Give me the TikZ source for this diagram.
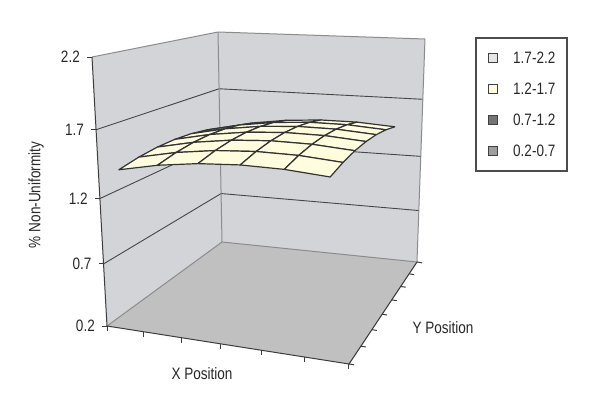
\documentclass[tikz,border=0pt]{standalone}
\usepackage{fontspec}
\setmainfont{Liberation Sans}[FakeStretch=0.82]
\definecolor{wallc}{RGB}{211,212,216}
\definecolor{floorc}{RGB}{192,192,192}
\definecolor{surfc}{RGB}{255,253,222}
\definecolor{gridc}{RGB}{70,70,70}
\definecolor{edgec}{RGB}{140,140,140}
\definecolor{axisc}{RGB}{60,60,60}
\definecolor{txtc}{RGB}{40,40,40}
\newcommand\projpt[4]{%
 \pgfmathsetmacro\su{(#2)*0.89/((1-(#2))+(#2)*0.89)}%
 \pgfmathsetmacro\sv{(#3)*1.27/((1-(#3))+(#3)*1.27)}%
 \pgfmathsetmacro\hh{((#4)-0.2)/2}%
 \pgfmathsetmacro\sh{\hh*0.9/((1-\hh)+\hh*0.9)}%
 \pgfmathsetmacro\bx{(1-\su)*(1-\sv)*107+\su*(1-\sv)*349+\su*\sv*417+(1-\su)*\sv*222}%
 \pgfmathsetmacro\by{(1-\su)*(1-\sv)*326+\su*(1-\sv)*364+\su*\sv*262+(1-\su)*\sv*242}%
 \pgfmathsetmacro\tx{(1-\su)*(1-\sv)*92+\su*(1-\sv)*354+\su*\sv*425+(1-\su)*\sv*218}%
 \pgfmathsetmacro\ty{(1-\su)*(1-\sv)*57+\su*(1-\sv)*78+\su*\sv*39+(1-\su)*\sv*32}%
 \pgfmathsetmacro\px{(1-\sh)*\bx+\sh*\tx}%
 \pgfmathsetmacro\py{(1-\sh)*\by+\sh*\ty}%
 \coordinate (#1) at (\px,\py);%
}
\tikzset{
  wall/.style={fill=wallc},
  floorface/.style={fill=floorc},
  gridline/.style={draw=gridc, line width=0.9pt},
  edgeline/.style={draw=edgec, line width=1pt},
  axisline/.style={draw=axisc, line width=1pt},
  cell/.style={fill=surfc, draw=black!80, line width=1.2pt, line join=round},
  lab/.style={font=\fontsize{16.5}{18}\selectfont, text=txtc, inner sep=0pt},
  legsq/.style={draw=black!75, line width=0.9pt, minimum size=9.5pt, inner sep=0pt},
  legframe/.style={draw=black!70, line width=1.2pt, fill=white, inner sep=0pt},
  declare function={fval(\u,\v)=1.573-0.36*(\u-0.65)*(\u-0.65)-0.33*(\v-0.47)*(\v-0.47);}
}
\begin{document}
\begin{tikzpicture}[x=1pt,y=-1pt]
\path[use as bounding box, fill=white] (0,0) rectangle (600,415);
% frame points
\foreach \k/\val in {0/0.2,1/0.7,2/1.2,3/1.7,4/2.2}{
  \projpt{La\k}{0}{0}{\val}
  \projpt{Lb\k}{0}{1}{\val}
  \projpt{Lr\k}{1}{1}{\val}
}
\projpt{F0}{1}{0}{0.2}
% walls and floor
\fill[wall] (La0) -- (La4) -- (Lb4) -- (Lb0) -- cycle;
\fill[wall] (Lb0) -- (Lb4) -- (Lr4) -- (Lr0) -- cycle;
\fill[floorface] (La0) -- (Lb0) -- (Lr0) -- (F0) -- cycle;
\foreach \k in {1,2,3}{
  \draw[gridline] (La\k) -- (Lb\k) -- (Lr\k);
}
\draw[edgeline] (La4) -- (Lb4) -- (Lr4) -- (Lr0);
\draw[edgeline] (Lb4) -- (Lb0);
\draw[edgeline] (La0) -- (Lb0) -- (Lr0);
\draw[axisline] (La0) -- (La4);
\draw[axisline] (La0) -- (F0) -- (Lr0);
% value axis ticks and labels
\foreach \k/\val in {0/0.2,1/0.7,2/1.2,3/1.7,4/2.2}{
  \draw[axisline] (La\k) -- ++(-5,0);
  \node[lab, anchor=east] (v\k) at ([xshift=-12pt]La\k) {\val};
}
% X ticks
\foreach \i in {0,...,6}{
  \projpt{X\i}{\i/6}{0}{0.2}
  \draw[axisline] (X\i) -- ++(0,5);
}
% Y ticks
\foreach \j in {0,...,7}{
  \projpt{Y\j}{1}{\j/7}{0.2}
  \draw[axisline] (Y\j) -- ++(5,0.8);
}
% surface points
\foreach \i in {0,...,5}{
  \foreach \j in {0,...,6}{
    \pgfmathsetmacro\uu{0.044+\i*0.171}
    \pgfmathsetmacro\vv{0.07+\j*0.143}
    \pgfmathsetmacro\ff{fval(\uu,\vv)}
    \projpt{s\i-\j}{\uu}{\vv}{\ff}
  }
}
\foreach \j in {5,4,...,0}{
  \foreach \i in {0,...,4}{
    \pgfmathtruncatemacro\ii{\i+1}
    \pgfmathtruncatemacro\jj{\j+1}
    \filldraw[cell] (s\i-\j) -- (s\ii-\j) -- (s\ii-\jj) -- (s\i-\jj) -- cycle;
  }
}
% axis titles
\node[lab, rotate=90] (ytitle) at (36,195) {\% Non-Uniformity};
\node[lab] (xtitle) at (202,374) {X Position};
\node[lab] (ztitle) at (443,328) {Y Position};
% legend
\node[legframe, minimum width=91pt, minimum height=133pt] (leg) at (521.5,104.5) {};
\node[legsq, fill=black!10] (q1) at (493,58) {};
\node[legsq, fill=surfc] (q2) at (493,89) {};
\node[legsq, fill=black!55] (q3) at (493,120) {};
\node[legsq, fill=black!38] (q4) at (493,151) {};
\node[lab, anchor=west] (l1) at (513,58) {1.7-2.2};
\node[lab, anchor=west] (l2) at (513,89) {1.2-1.7};
\node[lab, anchor=west] (l3) at (513,120) {0.7-1.2};
\node[lab, anchor=west] (l4) at (513,151) {0.2-0.7};
\end{tikzpicture}
\end{document}
